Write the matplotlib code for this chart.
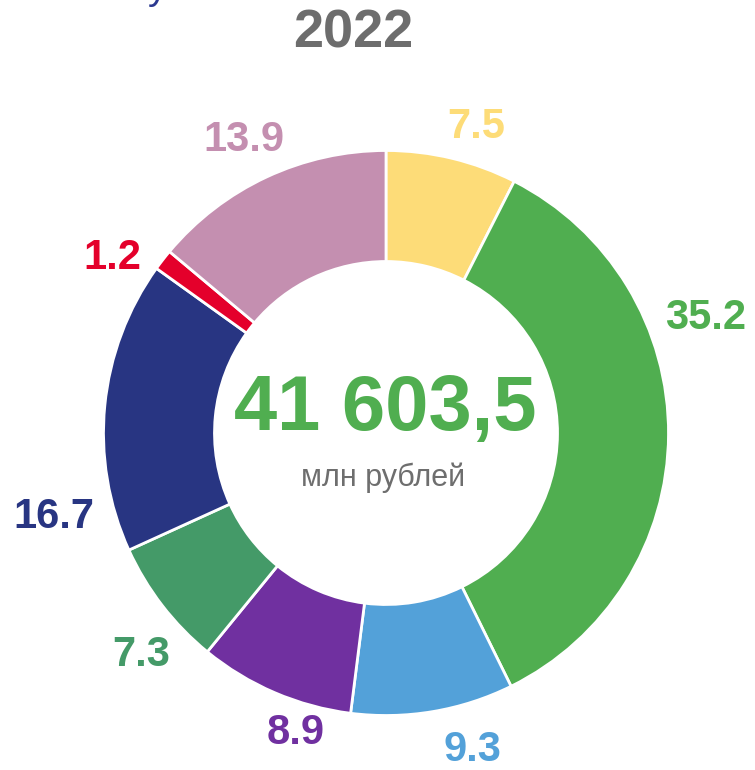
import matplotlib
matplotlib.use('Agg')
import matplotlib.pyplot as plt

plt.rcParams['font.family'] = ['Liberation Sans', 'DejaVu Sans']

# shares, clockwise from 12 o'clock
values = [7.5, 35.2, 9.3, 8.9, 7.3, 16.7, 1.2, 13.9]
labels = ['7.5', '35.2', '9.3', '8.9', '7.3', '16.7', '1.2', '13.9']
colors = ['#FDDC78', '#50AE50', '#53A1D9', '#7030A0',
          '#449A68', '#283582', '#E4002B', '#C48FB0']
total_text = '41 603,5'
unit_text = 'млн рублей'
year = '2022'

# layout in pixels (figure 755 x 770)
W, H = 755, 770
cx, cy, R = 386, 433, 282.5
label_px = [(476, 127), (706, 318), (472, 750), (296, 733),
            (141, 655), (54, 517), (112, 258), (244, 140)]


def to_data(px, py):
    return (px - cx) / R, (cy - py) / R


fig = plt.figure(figsize=(W / 100, H / 100), dpi=100)
ax = fig.add_axes([0, 0, 1, 1])

ax.pie(values, colors=colors, startangle=90, counterclock=False,
       radius=1, wedgeprops=dict(width=1 - 171.5 / R, edgecolor='white',
                                 linewidth=2.0))

for (px, py), lab, col in zip(label_px, labels, colors):
    x, y = to_data(px, py)
    ax.text(x, y, lab, ha='center', va='center', color=col,
            fontsize=30, fontweight='bold')

x, y = to_data(385, 409)
ax.text(x, y, total_text, ha='center', va='center', color='#50AE50',
        fontsize=56, fontweight='bold')
x, y = to_data(383, 486)
ax.text(x, y, unit_text, ha='center', va='baseline', color='#6E6E6E',
        fontsize=22)

fig.text(353 / W, 1 - 33.5 / H, year, ha='center', va='center',
         color='#6D6D6D', fontsize=39, fontweight='bold')
# tail of the cut-off heading above
fig.text(158 / W, 1 + 1 / H, 'у', ha='center', va='baseline',
         color='#2B3990', fontsize=28)

ax.set_xlim(-cx / R, (W - cx) / R)
ax.set_ylim((cy - H) / R, cy / R)
ax.set_aspect('auto')
ax.axis('off')

fig.savefig('out.png', dpi=100)
